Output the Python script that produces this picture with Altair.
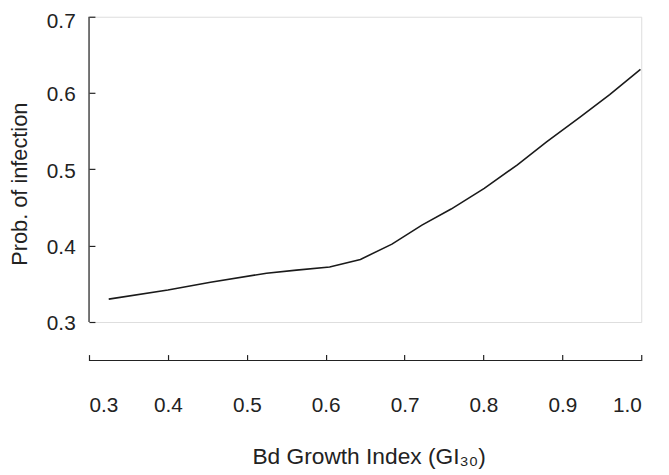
import altair as alt
import pandas as pd

# Data
gi = [0.325, 0.40, 0.454, 0.525, 0.563, 0.605, 0.644, 0.684, 0.722, 0.759,
      0.801, 0.843, 0.880, 0.922, 0.960, 0.999]
prob = [0.330, 0.342, 0.352, 0.364, 0.368, 0.372, 0.382, 0.402, 0.427, 0.448,
        0.475, 0.506, 0.536, 0.568, 0.598, 0.631]
x_ticks = [0.3, 0.4, 0.5, 0.6, 0.7, 0.8, 0.9, 1.0]
y_ticks = [0.3, 0.4, 0.5, 0.6, 0.7]
x_domain = [0.3, 1.0]
y_domain = [0.3, 0.7]

df = pd.DataFrame({"gi": gi, "prob": prob})

W, H = 559, 309
FONT = "Liberation Sans"
INK = "#222222"

line = alt.Chart(df).mark_line(color="#1a1a1a", strokeWidth=1.6).encode(
    x=alt.X("gi:Q",
            scale=alt.Scale(domain=x_domain, nice=False, zero=False),
            axis=alt.Axis(values=x_ticks, format=".1f", offset=33, tickSize=6,
                          domain=False, grid=False, labelPadding=35,
                          labelFontSize=21, labelFont=FONT, labelColor=INK,
                          tickColor=INK, tickWidth=1.2,
                          title="Bd Growth Index (GI₃₀)", titleFont=FONT,
                          titleFontSize=23, titleFontWeight="normal",
                          titleColor=INK, titleBaseline="middle",
                          titleY=103, titleX=283)),
    y=alt.Y("prob:Q",
            scale=alt.Scale(domain=y_domain, nice=False, zero=False),
            axis=alt.Axis(values=y_ticks, format=".1f", offset=-6, tickSize=6,
                          domain=False, grid=False, labelPadding=14,
                          labelOffset={"condition": {"test": "datum.value >= 0.69", "value": 5},
                                       "value": 2},
                          labelFontSize=21, labelFont=FONT, labelColor=INK,
                          tickColor=INK, tickWidth=1.2,
                          title="Prob. of infection", titleFont=FONT,
                          titleFontSize=22, titleFontWeight="normal",
                          titleColor=INK, titleBaseline="middle",
                          titleAngle=270, titleY=169, titleX=-76)),
)

xdom = pd.DataFrame({"a": [x_domain[0]], "b": [x_domain[1]]})
ydom = pd.DataFrame({"a": [y_domain[0]], "b": [y_domain[1]]})

x_axis_line = alt.Chart(xdom).mark_rule(color=INK, strokeWidth=1.2).encode(
    x=alt.X("a:Q"), x2="b:Q", y=alt.value(H + 39)
)
y_axis_line = alt.Chart(ydom).mark_rule(color=INK, strokeWidth=1.2).encode(
    y=alt.Y("a:Q"), y2="b:Q", x=alt.value(0)
)

chart = alt.layer(line, x_axis_line, y_axis_line).properties(
    width=W, height=H,
    autosize=alt.AutoSizeParams(type="none"),
    padding={"left": 82, "top": 6, "right": 20, "bottom": 150},
).configure_view(stroke=None).configure(background="white")

chart.save("out.html", embed_options={"renderer": "svg", "actions": False})
